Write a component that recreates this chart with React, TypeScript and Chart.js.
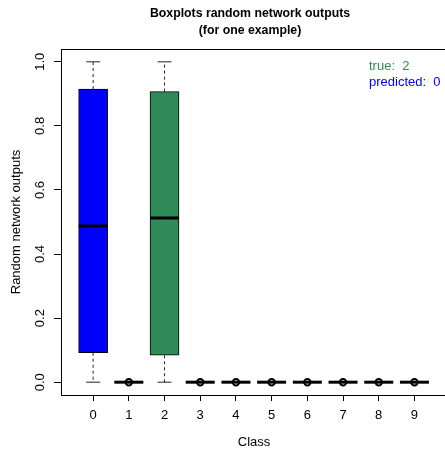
import React, { useEffect, useRef } from "react";
import { Chart, registerables } from "chart.js";

Chart.register(...registerables);

// ---- data ----
const classLabels = ["0", "1", "2", "3", "4", "5", "6", "7", "8", "9"];
const whiskerLow = [0, 0, 0, 0, 0, 0, 0, 0, 0, 0];
const quartile1 = [0.092, 0, 0.084, 0, 0, 0, 0, 0, 0, 0];
const medians = [0.4875, 0, 0.5125, 0, 0, 0, 0, 0, 0, 0];
const quartile3 = [0.915, 0, 0.907, 0, 0, 0, 0, 0, 0, 0];
const whiskerHigh = [1.0, 0, 1.0, 0, 0, 0, 0, 0, 0, 0];
const boxColors = ["#0000FF", "#FFFFFF", "#2E8B57", "#FFFFFF", "#FFFFFF", "#FFFFFF", "#FFFFFF", "#FFFFFF", "#FFFFFF", "#FFFFFF"];
const outlierClass = [1, 3, 4, 5, 6, 7, 8, 9];
const outlierValue = [0, 0, 0, 0, 0, 0, 0, 0];
const yTickValues = [0, 0.2, 0.4, 0.6, 0.8, 1.0];
const yTickLabels = ["0.0", "0.2", "0.4", "0.6", "0.8", "1.0"];
const titleLines = ["Boxplots random network outputs", "(for one example)"];
const xTitle = "Class";
const yTitle = "Random network outputs";
const trueLabel = "true:  2";
const predLabel = "predicted:  0";

const FONT = "'Liberation Sans', Arial, Helvetica, sans-serif";

export default function App() {
  const ref = useRef<HTMLCanvasElement | null>(null);

  useEffect(() => {
    const canvas = ref.current!;
    const boxPlugin = {
      id: "boxExtras",
      afterDatasetDraw(chart: any, args: any) {
        if (args.index !== 0) return;
        const ctx = chart.ctx;
        const xs = chart.scales.x;
        const ys = chart.scales.y;
        const boxW = 29;
        const stapleW = 14;
        ctx.save();
        for (let i = 0; i < classLabels.length; i++) {
          const x = xs.getPixelForValue(i + 1);
          const yMin = ys.getPixelForValue(whiskerLow[i]);
          const yQ1 = ys.getPixelForValue(quartile1[i]);
          const yMed = ys.getPixelForValue(medians[i]);
          const yQ3 = ys.getPixelForValue(quartile3[i]);
          const yMax = ys.getPixelForValue(whiskerHigh[i]);
          ctx.strokeStyle = "#222";
          ctx.lineWidth = 1;
          if (whiskerHigh[i] > quartile3[i]) {
            ctx.setLineDash([3, 3]);
            ctx.beginPath();
            ctx.moveTo(x, yQ3);
            ctx.lineTo(x, yMax);
            ctx.stroke();
            ctx.setLineDash([]);
            ctx.beginPath();
            ctx.moveTo(x - stapleW / 2, yMax);
            ctx.lineTo(x + stapleW / 2, yMax);
            ctx.stroke();
          }
          if (whiskerLow[i] < quartile1[i]) {
            ctx.setLineDash([3, 3]);
            ctx.beginPath();
            ctx.moveTo(x, yQ1);
            ctx.lineTo(x, yMin);
            ctx.stroke();
            ctx.setLineDash([]);
            ctx.beginPath();
            ctx.moveTo(x - stapleW / 2, yMin);
            ctx.lineTo(x + stapleW / 2, yMin);
            ctx.stroke();
          }
          ctx.strokeStyle = "#000";
          ctx.lineWidth = 3;
          ctx.lineCap = "butt";
          ctx.beginPath();
          ctx.moveTo(x - boxW / 2, yMed);
          ctx.lineTo(x + boxW / 2, yMed);
          ctx.stroke();
        }
        ctx.restore();
      },
      afterDraw(chart: any) {
        const ctx = chart.ctx;
        const ca = chart.chartArea;
        const ys = chart.scales.y;
        ctx.save();
        // frame
        ctx.strokeStyle = "#000";
        ctx.lineWidth = 1;
        ctx.strokeRect(Math.round(ca.left) + 0.5, Math.round(ca.top) + 0.5, ca.right - ca.left + 10, Math.round(ca.bottom - ca.top));
        // y tick labels rotated
        ctx.fillStyle = "#000";
        ctx.font = `13px ${FONT}`;
        ctx.textAlign = "center";
        ctx.textBaseline = "middle";
        for (let i = 0; i < yTickValues.length; i++) {
          const y = ys.getPixelForValue(yTickValues[i]);
          ctx.save();
          ctx.translate(40, y);
          ctx.rotate(-Math.PI / 2);
          ctx.fillText(yTickLabels[i], 0, 0);
          ctx.restore();
        }
        // y title
        ctx.save();
        ctx.translate(16, (ca.top + ca.bottom) / 2);
        ctx.rotate(-Math.PI / 2);
        ctx.fillText(yTitle, 0, 0);
        ctx.restore();
        // x title
        ctx.fillText(xTitle, 254, 442);
        // main title
        ctx.font = `bold 12.3px ${FONT}`;
        ctx.fillText(titleLines[0], 250, 14);
        ctx.fillText(titleLines[1], 250, 31);
        // legend text
        ctx.font = `13px ${FONT}`;
        ctx.textAlign = "left";
        ctx.fillStyle = "#2E8B57";
        ctx.fillText(trueLabel, 369, 66);
        ctx.fillStyle = "#0000FF";
        ctx.fillText(predLabel, 369, 82);
        ctx.restore();
      },
    };

    const chart = new Chart(canvas, {
      type: "bar",
      data: {
        datasets: [
          {
            type: "bar",
            data: classLabels.map((_, i) => ({ x: i + 1, y: [quartile1[i], quartile3[i]] })) as any,
            backgroundColor: boxColors,
            borderColor: "#000",
            borderWidth: 1,
            borderSkipped: false,
            barThickness: 29,
            grouped: false,
          } as any,
          {
            type: "scatter",
            data: outlierClass.map((c, i) => ({ x: c + 1, y: outlierValue[i] })),
            pointStyle: "circle",
            pointRadius: 3.2,
            pointBorderWidth: 2,
            pointBorderColor: "#000",
            pointBackgroundColor: "rgba(0,0,0,0)",
          } as any,
        ],
      },
      options: {
        responsive: false,
        animation: false,
        devicePixelRatio: 1,
        layout: { autoPadding: false, padding: { left: 0, top: 49, right: 0, bottom: 0 } },
        plugins: { legend: { display: false }, tooltip: { enabled: false }, title: { display: false } },
        scales: {
          x: {
            type: "linear",
            min: 0.1,
            max: 10.856,
            offset: false,
            afterBuildTicks: (s: any) => {
              s.ticks = classLabels.map((_, i) => ({ value: i + 1 }));
            },
            afterFit: (s: any) => {
              s.height = 56;
              s.paddingLeft = 0;
              s.paddingRight = 0;
            },
            ticks: {
              callback: (v: any) => classLabels[Math.round(v) - 1] ?? "",
              color: "#000",
              font: { size: 13, family: FONT },
              padding: 7,
              maxRotation: 0,
              minRotation: 0,
              autoSkip: false,
            },
            grid: { offset: false, drawOnChartArea: false, drawTicks: true, tickLength: 6, color: "#000" },
            border: { display: false },
          },
          y: {
            type: "linear",
            min: -0.04,
            max: 1.04,
            afterBuildTicks: (s: any) => {
              s.ticks = yTickValues.map((v) => ({ value: v }));
            },
            afterFit: (s: any) => {
              s.width = 61;
              s.paddingTop = 0;
              s.paddingBottom = 0;
            },
            ticks: { display: false },
            grid: { drawOnChartArea: false, drawTicks: true, tickLength: 7, color: "#000" },
            border: { display: false },
          },
        },
      } as any,
      plugins: [boxPlugin],
    });
    return () => chart.destroy();
  }, []);

  return (
    <div style={{ position: "absolute", left: 0, top: 0, width: 445, height: 451, background: "#fff" }}>
      <canvas ref={ref} width={445} height={451} style={{ width: 445, height: 451, display: "block" }} />
    </div>
  );
}
